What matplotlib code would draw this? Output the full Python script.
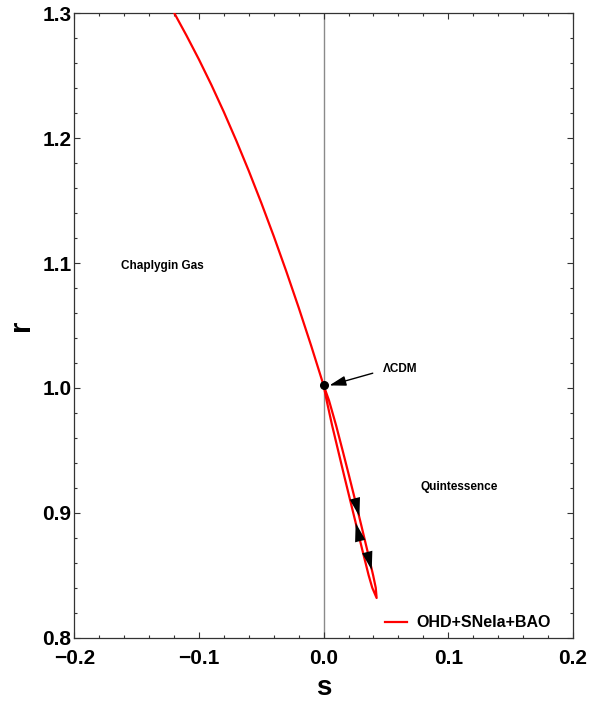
import numpy as np
import matplotlib.pyplot as plt

plt.rcParams['font.family'] = ['Liberation Sans', 'DejaVu Sans']

# upper branch, from top of the box down to the LCDM point
s_upper = [-0.1197, -0.11, -0.10, -0.09, -0.08, -0.07, -0.06, -0.05, -0.04, -0.03, -0.02, -0.01, 0.0]
r_upper = [1.300, 1.2822, 1.263, 1.2426, 1.2209, 1.1979, 1.1737, 1.1482, 1.1215, 1.0935, 1.0643, 1.0338, 1.002]

# loop below LCDM: going down on the right side, back up on the left side
r_loop = [1.002, 0.99, 0.97, 0.95, 0.93, 0.91, 0.89, 0.87, 0.85, 0.84, 0.8318]
s_down = [0.0, 0.0043, 0.0100, 0.0152, 0.0203, 0.0253, 0.0302, 0.0350, 0.0397, 0.0418, 0.0425]
s_up = [0.0, 0.0024, 0.0068, 0.0116, 0.0164, 0.0213, 0.0262, 0.0311, 0.0361, 0.0390, 0.0425]

s_all = s_upper + s_down[1:] + s_up[::-1][1:]
r_all = r_upper + r_loop[1:] + r_loop[::-1][1:]

lcdm = (0.0, 1.002)

# direction arrows on the loop (tip, tail)
arrow_tips = [(0.0287, 0.897), (0.0257, 0.892), (0.0386, 0.854)]
arrow_tails = [(0.0247, 0.913), (0.0297, 0.876), (0.0346, 0.870)]

fig = plt.figure(figsize=(6.03, 7.04), dpi=100)
ax = fig.add_axes([0.1232, 0.0942, 0.9502 - 0.1232, 0.9811 - 0.0942])

ax.axvline(0, color='#8a8a8a', lw=1.0, zorder=1)
ax.plot(s_all, r_all, color='#ff0000', lw=1.6, zorder=3, label='OHD+SNeIa+BAO')
ax.plot([lcdm[0]], [lcdm[1]], 'o', color='black', ms=5.5, zorder=5)

for tip, tail in zip(arrow_tips, arrow_tails):
    ax.annotate('', xy=tip, xytext=tail,
                arrowprops=dict(arrowstyle='-|>,head_length=1.35,head_width=0.38',
                                color='black', lw=0.01, shrinkA=0, shrinkB=0),
                zorder=6)

ax.annotate('', xy=(0.0046, 1.002), xytext=(0.0394, 1.0118),
            arrowprops=dict(arrowstyle='-|>,head_length=1.0,head_width=0.3',
                            color='black', lw=1.0, shrinkA=0, shrinkB=0))
ax.text(0.061, 1.015, 'ΛCDM', fontsize=8.5, fontweight='bold', ha='center', va='center')
ax.text(-0.129, 1.098, 'Chaplygin Gas', fontsize=8.5, fontweight='bold', ha='center', va='center')
ax.text(0.109, 0.921, 'Quintessence', fontsize=8.5, fontweight='bold', ha='center', va='center')

ax.set_xlim(-0.2, 0.2)
ax.set_ylim(0.8, 1.3)
ax.set_xticks([-0.2, -0.1, 0.0, 0.1, 0.2])
ax.set_yticks([0.8, 0.9, 1.0, 1.1, 1.2, 1.3])
ax.set_xticks(np.arange(-0.2, 0.201, 0.02), minor=True)
ax.set_yticks(np.arange(0.8, 1.301, 0.02), minor=True)
ax.set_xticklabels(['\u22120.2', '\u22120.1', '0.0', '0.1', '0.2'])
ax.set_yticklabels(['0.8', '0.9', '1.0', '1.1', '1.2', '1.3'])
ax.tick_params(which='both', direction='in', top=True, right=True, color='#333333', width=0.8)
ax.tick_params(which='major', length=4, labelsize=15)
ax.tick_params(axis='x', which='major', pad=8)
ax.tick_params(axis='y', which='major', pad=2)
ax.tick_params(which='minor', length=2.5)
for lab in ax.get_xticklabels() + ax.get_yticklabels():
    lab.set_fontweight('bold')
for sp in ax.spines.values():
    sp.set_color('#333333')
    sp.set_linewidth(0.9)

ax.set_xlabel('s', fontsize=20, fontweight='bold', labelpad=5)
ax.set_ylabel('r', fontsize=21, fontweight='bold', labelpad=5)

leg = ax.legend(loc='lower right', bbox_to_anchor=(0.984, -0.011), frameon=False,
                fontsize=11.5, handlelength=1.35, handletextpad=0.6, borderaxespad=0.5)
for t in leg.get_texts():
    t.set_fontweight('bold')

fig.savefig('out.png', dpi=100)
